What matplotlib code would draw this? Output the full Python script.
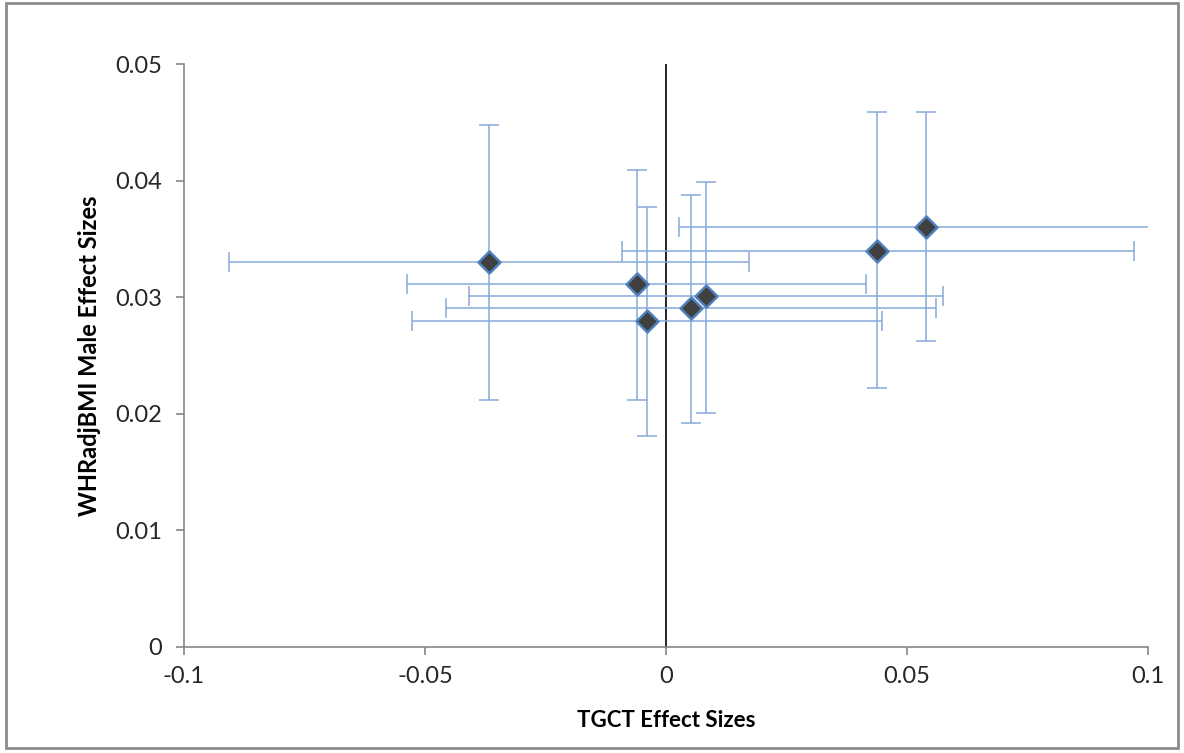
import matplotlib
matplotlib.use("Agg")
import matplotlib.pyplot as plt
from matplotlib.patches import Rectangle

plt.rcParams['font.family'] = ['Lato', 'DejaVu Sans']

# Effect sizes
tgct = [-0.0368, -0.0061, -0.0040, 0.0052, 0.0082, 0.0438, 0.0539]
whr = [0.0330, 0.0311, 0.0280, 0.0291, 0.0301, 0.0340, 0.0360]
# error bar ends (lower / upper)
tgct_lo = [-0.0906, -0.0538, -0.0528, -0.0457, -0.0408, -0.0092, 0.0027]
tgct_hi = [0.0173, 0.0415, 0.0449, 0.0561, 0.0575, 0.0970, 0.1050]
whr_lo = [0.0212, 0.0212, 0.0181, 0.0192, 0.0201, 0.0222, 0.0262]
whr_hi = [0.0448, 0.0409, 0.0377, 0.0388, 0.0399, 0.0459, 0.0459]

xerr = [[x - lo for x, lo in zip(tgct, tgct_lo)],
        [hi - x for x, hi in zip(tgct, tgct_hi)]]
yerr = [[y - lo for y, lo in zip(whr, whr_lo)],
        [hi - y for y, hi in zip(whr, whr_hi)]]

fig = plt.figure(figsize=(11.84, 7.53), dpi=100)
ax = fig.add_axes([0.1554, 0.1408, 0.8142, 0.7742])

ax.errorbar(tgct, whr, xerr=xerr, yerr=yerr, fmt='none',
            ecolor='#86aad8', elinewidth=1.1, capsize=7, capthick=1.1, zorder=2)
ax.scatter(tgct, whr, marker='D', s=125, color='#404040',
           edgecolor='#4f81bd', linewidth=1.8, zorder=3)

ax.axvline(0, color='black', linewidth=1.2, zorder=1)

ax.set_xlim(-0.1, 0.1)
ax.set_ylim(0, 0.05)
ax.set_xticks([-0.1, -0.05, 0, 0.05, 0.1])
ax.set_xticklabels(['-0.1', '-0.05', '0', '0.05', '0.1'])
ax.set_yticks([0, 0.01, 0.02, 0.03, 0.04, 0.05])
ax.set_yticklabels(['0', '0.01', '0.02', '0.03', '0.04', '0.05'])

for side in ['top', 'right']:
    ax.spines[side].set_visible(False)
for side in ['left', 'bottom']:
    ax.spines[side].set_color('#868686')
    ax.spines[side].set_linewidth(1.2)
ax.tick_params(axis='both', color='#868686', length=6, width=1.2,
               labelsize=17, labelcolor='#262626')
ax.tick_params(axis='y', pad=10)
ax.tick_params(axis='x', pad=8)

ax.set_xlabel('TGCT Effect Sizes', fontsize=16, fontweight='bold', labelpad=16)
ax.set_ylabel('WHRadjBMI Male Effect Sizes', fontsize=17, fontweight='bold', labelpad=10)

# outer chart border
fig.patches.append(Rectangle((0.005, 0.006), 0.99, 0.99, transform=fig.transFigure,
                             fill=False, edgecolor='#8c8c8c', linewidth=2))

fig.savefig('out.png', dpi=100)
